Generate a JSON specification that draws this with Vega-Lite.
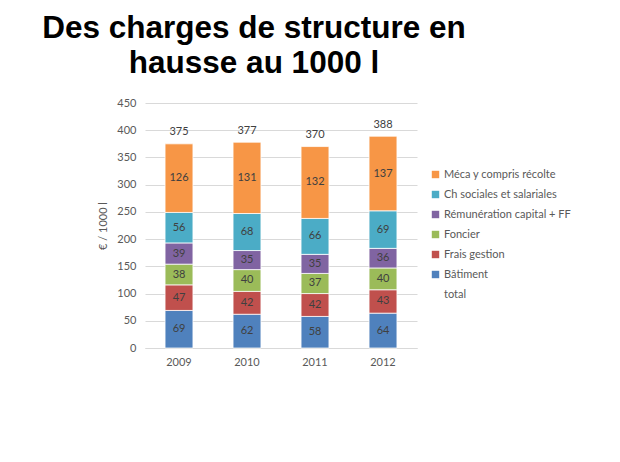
{
  "$schema": "https://vega.github.io/schema/vega-lite/v6.json",
  "width": 272,
  "height": 245,
  "autosize": {"type": "none"},
  "padding": {"left": 145, "top": 103, "right": 203, "bottom": 114},
  "background": "white",
  "title": {
    "text": ["Des charges de structure en", "hausse au 1000 l"],
    "font": "Liberation Sans",
    "fontSize": 31.5,
    "fontWeight": "bold",
    "color": "black",
    "lineHeight": 35,
    "anchor": "middle",
    "frame": "group",
    "dx": -27,
    "offset": 18
  },
  "config": {
    "font": "Lato",
    "view": {"stroke": null},
    "axis": {
      "labelFont": "Lato",
      "labelFontSize": 11,
      "labelColor": "#595959",
      "titleFont": "Lato",
      "titleFontSize": 11,
      "titleFontWeight": "normal",
      "titleColor": "#595959",
      "ticks": false
    },
    "axisY": {"domain": false, "gridColor": "#d9d9d9", "labelPadding": 9, "titlePadding": 8},
    "axisX": {"domainColor": "#d9d9d9", "grid": false, "labelPadding": 8, "labelAngle": 0},
    "legend": {
      "labelFont": "Lato",
      "labelFontSize": 11,
      "labelColor": "#595959"
    }
  },
  "datasets": {
    "parts": [
      {"year": "2009", "category": "Bâtiment", "value": 69, "ord": 1},
      {"year": "2009", "category": "Frais gestion", "value": 47, "ord": 2},
      {"year": "2009", "category": "Foncier", "value": 38, "ord": 3},
      {"year": "2009", "category": "Rémunération capital + FF", "value": 39, "ord": 4},
      {"year": "2009", "category": "Ch sociales et salariales", "value": 56, "ord": 5},
      {"year": "2009", "category": "Méca y compris récolte", "value": 126, "ord": 6},
      {"year": "2010", "category": "Bâtiment", "value": 62, "ord": 1},
      {"year": "2010", "category": "Frais gestion", "value": 42, "ord": 2},
      {"year": "2010", "category": "Foncier", "value": 40, "ord": 3},
      {"year": "2010", "category": "Rémunération capital + FF", "value": 35, "ord": 4},
      {"year": "2010", "category": "Ch sociales et salariales", "value": 68, "ord": 5},
      {"year": "2010", "category": "Méca y compris récolte", "value": 131, "ord": 6},
      {"year": "2011", "category": "Bâtiment", "value": 58, "ord": 1},
      {"year": "2011", "category": "Frais gestion", "value": 42, "ord": 2},
      {"year": "2011", "category": "Foncier", "value": 37, "ord": 3},
      {"year": "2011", "category": "Rémunération capital + FF", "value": 35, "ord": 4},
      {"year": "2011", "category": "Ch sociales et salariales", "value": 66, "ord": 5},
      {"year": "2011", "category": "Méca y compris récolte", "value": 132, "ord": 6},
      {"year": "2012", "category": "Bâtiment", "value": 64, "ord": 1},
      {"year": "2012", "category": "Frais gestion", "value": 43, "ord": 2},
      {"year": "2012", "category": "Foncier", "value": 40, "ord": 3},
      {"year": "2012", "category": "Rémunération capital + FF", "value": 36, "ord": 4},
      {"year": "2012", "category": "Ch sociales et salariales", "value": 69, "ord": 5},
      {"year": "2012", "category": "Méca y compris récolte", "value": 137, "ord": 6}
    ],
    "totals": [
      {"year": "2009", "total": 375},
      {"year": "2010", "total": 377},
      {"year": "2011", "total": 370},
      {"year": "2012", "total": 388}
    ]
  },
  "layer": [
    {
      "data": {"name": "parts"},
      "transform": [
        {"stack": "value", "groupby": ["year"], "sort": [{"field": "ord", "order": "ascending"}], "as": ["y0", "y1"]},
        {"calculate": "(datum.y0 + datum.y1) / 2", "as": "mid"}
      ],
      "layer": [
        {
          "mark": {"type": "bar", "stroke": "white", "strokeWidth": 0.75},
          "encoding": {
            "x": {"field": "year", "type": "ordinal", "title": null,
                  "scale": {"paddingInner": 0.59, "paddingOuter": 0.295}},
            "y": {"field": "y0", "type": "quantitative", "title": "€ / 1000 l",
                  "scale": {"domain": [0, 450], "nice": false},
                  "axis": {"values": [0, 50, 100, 150, 200, 250, 300, 350, 400, 450]}},
            "y2": {"field": "y1"},
            "color": {
              "field": "category", "type": "nominal",
              "scale": {
                "domain": ["Méca y compris récolte", "Ch sociales et salariales", "Rémunération capital + FF", "Foncier", "Frais gestion", "Bâtiment", "total"],
                "range": ["#F79646", "#4BACC6", "#8064A2", "#9BBB59", "#C0504D", "#4F81BD", "transparent"]
              },
              "legend": {
                "title": null,
                "orient": "none",
                "legendX": 285,
                "legendY": 66,
                "symbolType": "square",
                "symbolSize": 55,
                "symbolStrokeWidth": 0,
                "rowPadding": 8,
                "labelOffset": 3
              }
            }
          }
        },
        {
          "mark": {"type": "text", "font": "Lato", "fontSize": 11, "color": "#404040", "baseline": "middle"},
          "encoding": {
            "x": {"field": "year", "type": "ordinal", "title": null},
            "y": {"field": "mid", "type": "quantitative", "title": "€ / 1000 l",
                  "axis": {"values": [0, 50, 100, 150, 200, 250, 300, 350, 400, 450]}},
            "text": {"field": "value", "type": "quantitative"}
          }
        }
      ]
    },
    {
      "data": {"name": "totals"},
      "mark": {"type": "text", "font": "Lato", "fontSize": 11, "color": "#404040", "baseline": "middle", "dy": -12},
      "encoding": {
        "x": {"field": "year", "type": "ordinal", "title": null},
        "y": {"field": "total", "type": "quantitative", "title": "€ / 1000 l",
              "axis": {"values": [0, 50, 100, 150, 200, 250, 300, 350, 400, 450]}},
        "text": {"field": "total", "type": "quantitative"}
      }
    }
  ]
}
